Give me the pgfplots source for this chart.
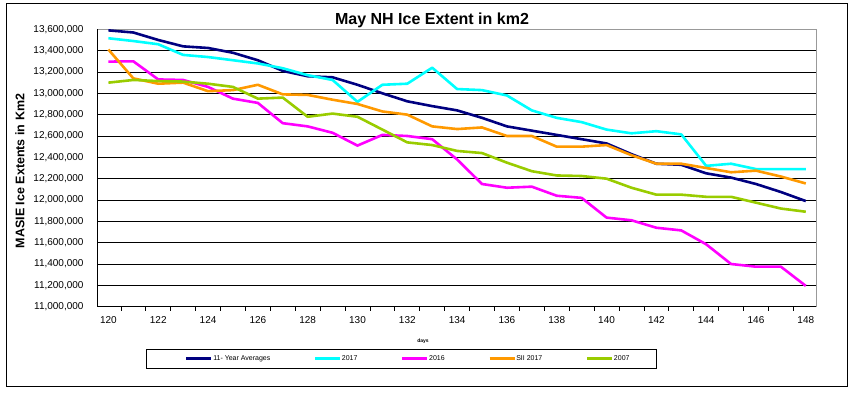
\documentclass[border=0pt]{standalone}
\usepackage{fontspec}
\setmainfont{Liberation Sans}
\usepackage{pgfplots}
\usepackage{pgfplotstable}
\pgfplotsset{compat=1.18}
\definecolor{navyc}{HTML}{000080}
\definecolor{cyanc}{HTML}{00FFFF}
\definecolor{magc}{HTML}{FF00FF}
\definecolor{orac}{HTML}{FF9900}
\definecolor{grnc}{HTML}{99CC00}
\pgfplotstableread{
day avg y2017 y2016 sii y2007
120 13590000 13516000 13297000 13410000 13100000
121 13570000 13490000 13300000 13140000 13125000
122 13500000 13460000 13130000 13090000 13115000
123 13440000 13360000 13125000 13100000 13110000
124 13425000 13340000 13060000 13020000 13090000
125 13380000 13310000 12950000 13030000 13060000
126 13310000 13280000 12910000 13080000 12950000
127 13210000 13235000 12720000 12990000 12960000
128 13160000 13170000 12690000 12985000 12780000
129 13150000 13125000 12630000 12940000 12810000
130 13080000 12920000 12510000 12900000 12780000
131 13000000 13080000 12610000 12830000 12660000
132 12925000 13090000 12600000 12800000 12540000
133 12880000 13240000 12570000 12690000 12515000
134 12840000 13040000 12380000 12665000 12460000
135 12770000 13030000 12150000 12680000 12440000
136 12690000 12980000 12115000 12600000 12350000
137 12650000 12840000 12125000 12600000 12270000
138 12610000 12770000 12040000 12500000 12230000
139 12570000 12730000 12020000 12500000 12225000
140 12530000 12660000 11835000 12515000 12200000
141 12430000 12625000 11810000 12420000 12115000
142 12340000 12645000 11740000 12340000 12050000
143 12330000 12615000 11715000 12340000 12050000
144 12250000 12320000 11585000 12300000 12030000
145 12210000 12340000 11400000 12260000 12030000
146 12150000 12290000 11375000 12275000 11975000
147 12075000 12290000 11375000 12220000 11920000
148 11990000 12290000 11195000 12155000 11890000
}\datatable
\begin{document}
\begin{tikzpicture}[x=1pt,y=1pt]
\useasboundingbox (0,0) rectangle (854,393);
\draw[black, line width=0.8pt] (6.5,7) rectangle (847,390);
\begin{axis}[
  at={(97.7pt,86.3pt)}, anchor=south west,
  scale only axis, width=718.3pt, height=277.4pt,
  xmin=119.57, xmax=148.41, ymin=11000000, ymax=13600000,
  xtick={120,122,124,126,128,130,132,134,136,138,140,142,144,146,148},
  minor xtick={120.5,121.5,...,147.5},
  ytick={11000000,11200000,11400000,11600000,11800000,12000000,12200000,12400000,12600000,12800000,13000000,13200000,13400000},
  extra y ticks={13600000}, extra y tick style={grid=none},
  ymajorgrids, grid style={black, line width=0.7pt},
  major tick length=0pt, minor tick length=4pt, tick align=outside,
  xtick pos=bottom, ytick pos=left,
  minor tick style={black, line width=0.7pt},
  axis line style={draw=gray!80, line width=0.8pt},
  scaled y ticks=false,
  /pgf/number format/.cd, fixed, precision=0, 1000 sep={,}, assume math mode=true, /pgfplots/.cd,
  ticklabel style={font=\fontsize{10}{12}\selectfont},
  yticklabel style={anchor=east, inner xsep=0pt, xshift=-14pt},
  xticklabel style={anchor=center, inner sep=0pt, yshift=-13.5pt},
  legend cell align=left,
  legend style={at={(axis description cs:0.1215,-0.1867)}, anchor=west, draw=none, fill=none, inner sep=0pt, legend columns=5, font=\fontsize{7}{8}\selectfont, /tikz/every even column/.append style={column sep=43pt}, nodes={inner sep=0.5pt}},
  legend image code/.code={\draw[#1,line width=2.6pt] (0pt,0pt) -- (25pt,0pt);},
  every axis plot/.append style={line width=2.6pt, no marks, line join=round},
  after end axis/.code={\draw[black,line width=0.8pt] (rel axis cs:0,1) -- (rel axis cs:0,0) -- (rel axis cs:1,0);}
]
\addplot[navyc] table[x=day,y=avg] {\datatable};
\addlegendentry{11- Year Averages}
\addplot[cyanc] table[x=day,y=y2017] {\datatable};
\addlegendentry{2017}
\addplot[magc] table[x=day,y=y2016] {\datatable};
\addlegendentry{2016}
\addplot[orac] table[x=day,y=sii] {\datatable};
\addlegendentry{SII 2017}
\addplot[grnc] table[x=day,y=y2007] {\datatable};
\addlegendentry{2007}
\end{axis}
\draw[black, line width=0.8pt] (146,25) rectangle (656,44);
\node[font=\bfseries\fontsize{16}{18}\selectfont] at (432,373) {May NH Ice Extent in km2};
\node[rotate=90, font=\bfseries\fontsize{12.5}{15}\selectfont] at (20,222) {MASIE Ice Extents in Km2};
\node[font=\bfseries\fontsize{5}{6}\selectfont] at (423,52) {days};
\end{tikzpicture}
\end{document}
